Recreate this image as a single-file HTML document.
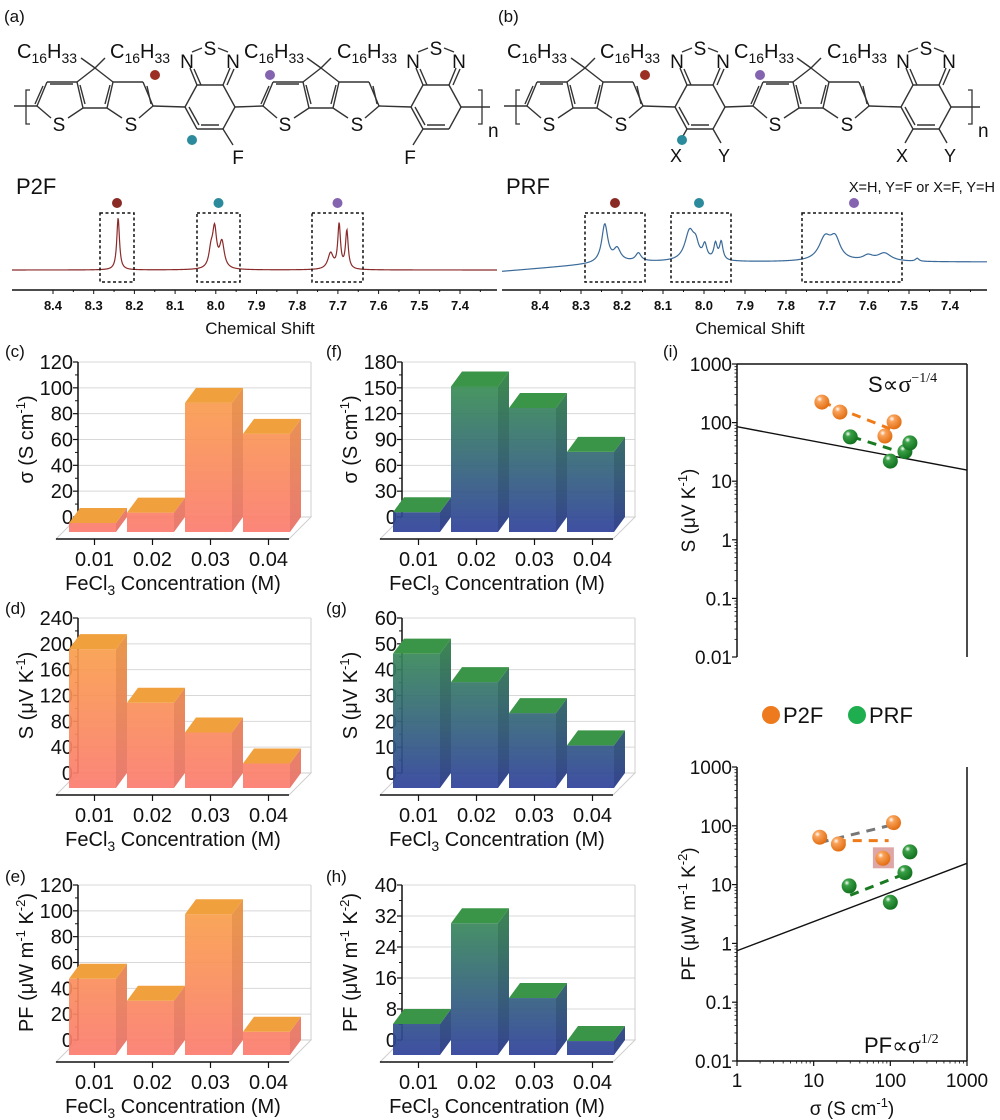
<!DOCTYPE html>
<html><head><meta charset="utf-8">
<style>
html,body{margin:0;padding:0;background:#fff;}
svg{display:block;font-family:"Liberation Sans",Arial,sans-serif;}
</style></head>
<body>
<svg id="fig" width="1000" height="1120" viewBox="0 0 1000 1120" xmlns="http://www.w3.org/2000/svg">
<defs>
<radialGradient id="ballO" cx="0.35" cy="0.3" r="0.75"><stop offset="0" stop-color="#fff"/><stop offset="0.25" stop-color="#f9a25a"/><stop offset="1" stop-color="#e06a0c"/></radialGradient>
<radialGradient id="ballG" cx="0.35" cy="0.3" r="0.75"><stop offset="0" stop-color="#fff"/><stop offset="0.25" stop-color="#3aa046"/><stop offset="1" stop-color="#0f6e1c"/></radialGradient>
</defs>
<g id="root"></g>
</svg>
<script>
// ---------------- data ----------------
const concLabels = ["0.01","0.02","0.03","0.04"];
const p2fSigma = [7, 15, 100, 76];
const p2fSeebeck = [215, 132, 86, 38];
const p2fPF = [59, 42, 109, 18];
const prfSigma = [23, 169, 144, 93];
const prfSeebeck = [52, 41, 29, 16.5];
const prfPF = [8, 34, 14.7, 3.6];

const sigTicksC = [0,20,40,60,80,100,120];
const sigTicksF = [0,30,60,90,120,150,180];
const sTicksD = [0,40,80,120,160,200,240];
const sTicksG = [0,10,20,30,40,50,60];
const pfTicksE = [0,20,40,60,80,100,120];
const pfTicksH = [0,8,16,24,32,40];

// log plot data
const p2fLogSigma = [12.8, 22, 85, 112];
const p2fLogS = [224, 151, 59, 103];
const prfLogSigma = [30, 100, 155, 180];
const prfLogS = [57, 22, 32, 45];
const p2fPFSigma = [12, 21, 110, 80];
const p2fPFVal = [64, 49, 113, 28];
const prfPFSigma = [29, 100, 155, 180];
const prfPFVal = [9.5, 5, 16, 36];
const logYTicks = [1000,100,10,1,0.1,0.01];
const logYLabels = ["1000","100","10","1","0.1","0.01"];
const logXTicks = [1,10,100,1000];
const logXLabels = ["1","10","100","1000"];
const sFitLine = [[1,85],[1000,15.5]];
const pfFitLine = [[1,0.75],[1000,23]];

// NMR peaks: ppm, height(px), width(ppm)
const p2fPeakPpm = [8.240, 8.003, 7.985, 8.012, 7.697, 7.678, 7.718];
const p2fPeakH = [52, 38, 26, 16, 44, 38, 16];
const p2fPeakW = [0.004, 0.006, 0.007, 0.006, 0.004, 0.004, 0.008];
const prfPeakPpm = [8.242, 8.212, 8.160, 8.035, 8.020, 7.998, 7.972, 7.958, 7.705, 7.680, 7.560, 7.600, 7.48];
const prfPeakH = [38, 12, 8, 30, 12, 14, 16, 18, 22, 20, 8, 5, 3];
const prfPeakW = [0.009, 0.010, 0.008, 0.014, 0.008, 0.006, 0.005, 0.005, 0.018, 0.015, 0.02, 0.015, 0.005];
const nmrTicks = [8.4,8.3,8.2,8.1,8.0,7.9,7.8,7.7,7.6,7.5,7.4];

const NS = "http://www.w3.org/2000/svg";
const root = document.getElementById("root");
function mk(tag, attrs, parent){
  const e = document.createElementNS(NS, tag);
  for (const k in attrs) e.setAttribute(k, attrs[k]);
  (parent||root).appendChild(e);
  return e;
}
function txt(x,y,s,size,parent,anchor,extra){
  const t = mk("text",Object.assign({x:x,y:y,"font-size":size,"text-anchor":anchor||"start",fill:"#111"},extra||{}),parent);
  t.innerHTML = s;
  return t;
}
let el;

// ---------------- panel labels ----------------
const panelLabels = [["(a)",4,22],["(b)",498,22],["(c)",5,357],["(f)",326,357],["(d)",5,614],["(g)",326,614],["(e)",5,882],["(h)",326,882],["(i)",663,357]];
panelLabels.forEach(p=>{
  el = txt(p[1],p[2],p[0],17);
  
  
});

// ---------------- chemical structures ----------------
function line(g,x1,y1,x2,y2,w){ return mk("line",{x1:x1,y1:y1,x2:x2,y2:y2,stroke:"#333","stroke-width":w||1.4},g); }
function cpdt(g,cx){
  const by=68;
  line(g,cx,by,cx-18,82); line(g,cx,by,cx+18,82);
  line(g,cx-18,82,cx-12,108); line(g,cx+18,82,cx+12,108); line(g,cx-12,108,cx+12,108);
  line(g,cx-15,85,cx-10,104);line(g,cx+15,85,cx+10,104);
  line(g,cx-18,82,cx-48,82); line(g,cx-48,82,cx-58,106); line(g,cx-52,86,cx-60,104);
  line(g,cx-58,106,cx-44,118); line(g,cx-12,108,cx-27,118);
  line(g,cx-45,84,cx-22,84);
  line(g,cx+18,82,cx+48,82); line(g,cx+48,82,cx+58,106); line(g,cx+52,86,cx+56,104);
  line(g,cx+58,106,cx+44,118); line(g,cx+12,108,cx+27,118);
  txt(cx-36,131,"S",19,g,"middle"); txt(cx+36,131,"S",19,g,"middle");
  line(g,cx,by,cx-14,58); line(g,cx,by,cx+10,58);
}
function bt(g,cx){
  const pts=[[cx-25,107],[cx-13,85],[cx+13,85],[cx+25,107],[cx+13,129],[cx-13,129]];
  for(let i=0;i<6;i++){const a=pts[i],b=pts[(i+1)%6]; line(g,a[0],a[1],b[0],b[1]);}
  line(g,cx-21,107,cx-11,125); line(g,cx+9,129-4,cx-9,129-4);
  line(g,cx-13,85,cx-20,68); line(g,cx+13,85,cx+20,68); line(g,cx-9,85,cx-16,69);line(g,cx+17,85,cx+24,69);
  txt(cx-23,68,"N",19,g,"middle"); txt(cx+23,68,"N",19,g,"middle"); txt(cx,55,"S",19,g,"middle");
  line(g,cx-18,52,cx-8,48); line(g,cx+18,52,cx+8,48);
}
function c16(g,x,y){ txt(x,y,'C<tspan font-size="14" dy="5">16</tspan><tspan dy="-5">H</tspan><tspan font-size="14" dy="5">33</tspan>',20,g); }
function structure(ox, isPRF){
  const g = mk("g",{transform:"translate("+ox+",0)"});
  
  
  cpdt(g,95); bt(g,210); cpdt(g,321); bt(g,436);
  line(g,37,106,14,106); line(g,153,106,185,107); line(g,235,107,263,106); line(g,379,106,411,107); line(g,461,107,490,107);
  mk("path",{d:"M30,90 L26,90 L26,124 L30,124",fill:"none",stroke:"#333","stroke-width":1.3},g);
  mk("path",{d:"M478,90 L482,90 L482,124 L478,124",fill:"none",stroke:"#333","stroke-width":1.3},g);
  txt(488,137,"n",19,g);
  c16(g,17,58); c16(g,110,58); c16(g,244,58); c16(g,337,58);
  if(!isPRF){
    line(g,223,129,233,145); txt(238,164,"F",19,g,"middle");
    line(g,423,129,413,145); txt(410,164,"F",19,g,"middle");
  } else {
    line(g,197,129,189,143); txt(186,162,"X",18,g,"middle");
    line(g,223,129,231,143); txt(234,162,"Y",18,g,"middle");
    line(g,423,129,415,143); txt(412,162,"X",18,g,"middle");
    line(g,449,129,457,143); txt(460,162,"Y",18,g,"middle");
  }
  mk("circle",{cx:155,cy:75,r:5,fill:"#9b2f24"},g);
  mk("circle",{cx:192,cy:140,r:5,fill:"#2b8a9b"},g);
  mk("circle",{cx:270,cy:75,r:5,fill:"#8463b0"},g);
}
structure(0,false);
structure(490,true);
el = txt(16,194,"P2F",22);  
el = txt(506,194,"PRF",22);  
el = txt(995,192,"X=H, Y=F or X=F, Y=H",14.5,null,"end");  

// ---------------- NMR spectra ----------------
function nmr(ox, ppmX0, scale, baseFn, ppms, hs, ws, color, boxes, name){
  const g = mk("g",{});
  
  
  // scale = pixels per 0.1 ppm
  const xOf = p => ppmX0 + (8.4-p)*scale*10;
  const pOf = x => 8.4 - (x-ppmX0)/(scale*10);
  let d="";
  for(let x=ox+12;x<=ox+497;x+=0.5){
    const p=pOf(x); let y=baseFn(x);
    for(let i=0;i<ppms.length;i++){const u=(p-ppms[i])/ws[i]; y-=hs[i]/(1+u*u);}
    d+=(d?"L":"M")+x.toFixed(1)+","+y.toFixed(2);
  }
  el = mk("path",{d:d,fill:"none",stroke:color,"stroke-width":1.2},g);
  
  
  boxes.forEach(b=>{ mk("rect",{x:b[0],y:213,width:b[1]-b[0],height:69,fill:"none",stroke:"#111","stroke-width":1.5,"stroke-dasharray":"3,2.5"},g);
    mk("circle",{cx:(b[0]+b[1])/2+b[3],cy:203,r:5,fill:b[2]},g);});
  mk("line",{x1:ox+12,y1:290,x2:ox+497,y2:290,stroke:"#111","stroke-width":1.5},g);
  nmrTicks.forEach(t=>{const x=xOf(t); mk("line",{x1:x,y1:290,x2:x,y2:294,stroke:"#111"},g);
    mk("line",{x1:x+scale/2,y1:290,x2:x+scale/2,y2:292,stroke:"#111"},g);
    txt(x,310,t.toFixed(1),13,g,"middle",{"font-weight":"bold"});});
  txt(ox+260,334,"Chemical Shift",17,g,"middle");
}
nmr(0,53,40.7,x=>270,p2fPeakPpm,p2fPeakH,p2fPeakW,"#8a2a2a",[[100,134,"#8a2a24",0],[197,240,"#2b8a9b",0],[312,363,"#8463b0",0]],"p2f-nmr");
nmr(490,540,41,x=>262+Math.max(0,(620-x))*0.08,prfPeakPpm,prfPeakH,prfPeakW,"#3a6a9a",[[585,645,"#8a2a24",0],[671,731,"#2b8a9b",-2],[802,902,"#8463b0",2]],"prf-nmr");

// ---------------- 3D bar charts ----------------
let gradId=0;
function barChart(cfg){
  const g = mk("g",{});
  
  
  const ax=cfg.ax, top=cfg.top, zero=cfg.zero, right=ax+233, tmax=cfg.ticks[cfg.ticks.length-1];
  const s=(zero-top)/tmax, dx=11, dy=15;
  const y = v => zero - v*s;
  const id="bg"+(gradId++);
  const lg = mk("linearGradient",{id:id,gradientUnits:"userSpaceOnUse",x1:0,y1:top,x2:0,y2:zero+dy},document.querySelector("defs"));
  mk("stop",{offset:"0",  "stop-color":cfg.c1},lg); mk("stop",{offset:"1","stop-color":cfg.c2},lg);
  const id2="bs"+(gradId++);
  const lg2 = mk("linearGradient",{id:id2,gradientUnits:"userSpaceOnUse",x1:0,y1:top,x2:0,y2:zero+dy},document.querySelector("defs"));
  mk("stop",{offset:"0","stop-color":cfg.s1},lg2); mk("stop",{offset:"1","stop-color":cfg.s2},lg2);
  cfg.ticks.forEach(t=>{ mk("line",{x1:ax,y1:y(t),x2:right,y2:y(t),stroke:"#d8d8d8","stroke-width":1},g); });
  mk("line",{x1:right,y1:top,x2:right,y2:zero,stroke:"#cfcfcf"},g);
  mk("polygon",{points:[ax,zero,right,zero,right-22,zero+22,ax-22,zero+22].join(" "),fill:"none",stroke:"#cfcfcf"},g);
  mk("line",{x1:ax-22,y1:zero+22,x2:right-22,y2:zero+22,stroke:"#111","stroke-width":1.5},g);
  mk("line",{x1:ax,y1:top,x2:ax,y2:zero,stroke:"#111","stroke-width":1.5},g);
  cfg.ticks.forEach((t,i)=>{ mk("line",{x1:ax-5,y1:y(t),x2:ax,y2:y(t),stroke:"#111","stroke-width":1.2},g);
    if(i<cfg.ticks.length-1) mk("line",{x1:ax-3,y1:(y(t)+y(cfg.ticks[i+1]))/2,x2:ax,y2:(y(t)+y(cfg.ticks[i+1]))/2,stroke:"#111"},g);
    el = txt(ax-5,y(t)+7,String(t),20,g,"end");
    
    
  });
  const x0 = ax-9, pitch=58, bw=47;
  cfg.values.forEach((v,i)=>{
    const fx = x0+i*pitch, bt_=y(v), ft=bt_+dy, fb=zero+dy;
    const bg = mk("g",{},g);
    
    
    mk("polygon",{points:[fx+bw,ft,fx+bw+dx,bt_,fx+bw+dx,zero,fx+bw,fb].join(" "),fill:"url(#"+id2+")",opacity:0.95},bg);
    mk("rect",{x:fx,y:ft,width:bw,height:fb-ft,fill:"url(#"+id+")",opacity:0.92},bg);
    mk("polygon",{points:[fx,ft,fx+dx,bt_,fx+bw+dx,bt_,fx+bw,ft].join(" "),fill:cfg.topc},bg);
    mk("line",{x1:fx+bw/2+2,y1:zero+22,x2:fx+bw/2+2,y2:zero+28,stroke:"#111","stroke-width":1.2},g);
    el = txt(fx+bw/2+2,zero+49,concLabels[i],20,g,"middle");
    
    
  });
  el = txt(ax+95,zero+73,'FeCl<tspan font-size="14" dy="5">3</tspan><tspan dy="-5"> Concentration (M)</tspan>',20,g,"middle");
  
  
  el = txt(0,0,cfg.ytitle,20,g,"middle",{transform:"translate("+(ax-45)+","+((top+zero)/2)+") rotate(-90)"});
  
  
}
const orange={c1:"#f8a544",c2:"#fb7b6e",s1:"#e8963c",s2:"#e8736a",topc:"#f1a03e"};
const green={c1:"#3a9a48",c2:"#2e409a",s1:"#338a40",s2:"#2a3a8a",topc:"#3b9548"};
const sigT='σ (S cm<tspan font-size="13" dy="-8">-1</tspan><tspan dy="8">)</tspan>';
const sT='S (μV K<tspan font-size="13" dy="-8">-1</tspan><tspan dy="8">)</tspan>';
const pfT='PF (μW m<tspan font-size="13" dy="-8">-1</tspan><tspan dy="8"> K</tspan><tspan font-size="13" dy="-8">-2</tspan><tspan dy="8">)</tspan>';
barChart(Object.assign({name:"chart-c-p2f-conductivity",ax:78,top:362,zero:517,ticks:sigTicksC,values:p2fSigma,ytitle:sigT},orange));
barChart(Object.assign({name:"chart-f-prf-conductivity",ax:402,top:362,zero:517,ticks:sigTicksF,values:prfSigma,ytitle:sigT},green));
barChart(Object.assign({name:"chart-d-p2f-seebeck",ax:78,top:618,zero:773,ticks:sTicksD,values:p2fSeebeck,ytitle:sT},orange));
barChart(Object.assign({name:"chart-g-prf-seebeck",ax:402,top:618,zero:773,ticks:sTicksG,values:prfSeebeck,ytitle:sT},green));
barChart(Object.assign({name:"chart-e-p2f-powerfactor",ax:78,top:885,zero:1040,ticks:pfTicksE,values:p2fPF,ytitle:pfT},orange));
barChart(Object.assign({name:"chart-h-prf-powerfactor",ax:402,top:885,zero:1040,ticks:pfTicksH,values:prfPF,ytitle:pfT},green));

// ---------------- log plots ----------------
const LX0=737, LX1=967, DX=(LX1-LX0)/3;
const lx = s => LX0 + Math.log10(s)*DX;
function logPlot(cfg){
  const g = mk("g",{});
  
  
  const T=cfg.top, B=cfg.bot, dd=(B-T)/5;
  const ly = v => T + (3-Math.log10(v))*dd;
  mk("line",{x1:LX0,y1:T,x2:LX0,y2:B,stroke:"#111","stroke-width":1.5},g);
  mk("line",{x1:LX1,y1:T,x2:LX1,y2:B,stroke:"#111","stroke-width":1.5},g);
  if(cfg.topLine) mk("line",{x1:LX0,y1:T,x2:LX1,y2:T,stroke:"#111","stroke-width":1.5},g);
  logYTicks.forEach((t,i)=>{ const yy=ly(t);
    mk("line",{x1:LX0-5,y1:yy,x2:LX0,y2:yy,stroke:"#111","stroke-width":1.2},g);
    if(i>0){ for(let k=2;k<10;k++){const ym=ly(t*k); mk("line",{x1:LX0-2.5,y1:ym,x2:LX0,y2:ym,stroke:"#111","stroke-width":0.8},g);} }
    el = txt(LX0-5,yy+7,logYLabels[i],19,g,"end");
    
    
  });
  if(cfg.xaxis){
    mk("line",{x1:LX0,y1:B,x2:LX1,y2:B,stroke:"#111","stroke-width":1.5},g);
    logXTicks.forEach((t,i)=>{ const xx=lx(t);
      mk("line",{x1:xx,y1:B,x2:xx,y2:B+5,stroke:"#111","stroke-width":1.2},g);
      if(i<3) for(let k=2;k<10;k++){const xm=lx(t*k); mk("line",{x1:xm,y1:B,x2:xm,y2:B+2.5,stroke:"#111","stroke-width":0.8},g);}
      el = txt(xx,B+26,logXLabels[i],19,g,"middle");
      
      
    });
    el = txt(852,B+54,'σ (S cm<tspan font-size="13" dy="-8">-1</tspan><tspan dy="8">)</tspan>',19,g,"middle");
    
    
  }
  el = mk("line",{x1:lx(cfg.fit[0][0]),y1:ly(cfg.fit[0][1]),x2:lx(cfg.fit[1][0]),y2:ly(cfg.fit[1][1]),stroke:"#111","stroke-width":1.4},g);
  
  
  cfg.dashes.forEach(d=>{ mk("line",{x1:lx(d[0]),y1:ly(d[1]),x2:lx(d[2]),y2:ly(d[3]),stroke:d[4],"stroke-width":3,"stroke-dasharray":"9,7"},g); });
  if(cfg.box){ mk("rect",{x:lx(cfg.box[0])-10,y:ly(cfg.box[1])-11,width:21,height:21,fill:"#c96a6a",opacity:0.6},g); }
  cfg.series.forEach(sr=>{
    sr.x.forEach((xv,i)=>{
      el = mk("circle",{cx:lx(xv),cy:ly(sr.y[i]),r:7.5,fill:sr.fill},g);
      
      
    });
  });
  el = txt(0,0,cfg.ytitle,19,g,"middle",{transform:"translate(695,"+((T+B)/2)+") rotate(-90)"});
  
  
  el = txt(cfg.ann[0],cfg.ann[1],cfg.ann[2],22,g,"start");
  
  
}
logPlot({name:"chart-i-seebeck-vs-conductivity",top:364,bot:657,topLine:true,xaxis:false,fit:sFitLine,
  dashes:[[13,224,100,78,"#f07a18"],[32,57,150,30,"#1a7a22"]],
  series:[{name:"p2f",x:p2fLogSigma,y:p2fLogS,fill:"url(#ballO)"},{name:"prf",x:prfLogSigma,y:prfLogS,fill:"url(#ballG)"}],
  ytitle:sT,ann:[868,392,'S∝<tspan font-family="Liberation Serif" font-size="24">σ</tspan><tspan font-family="Liberation Serif" font-size="14" dy="-10">−1/4</tspan>']});
logPlot({name:"chart-i-powerfactor-vs-conductivity",top:767,bot:1061,topLine:false,xaxis:true,fit:pfFitLine,
  dashes:[[12,52,110,105,"#777"],[20,56,95,56,"#f07a18"],[30,6.6,150,15,"#1a7a22"]],box:[80,28],
  series:[{name:"p2f",x:p2fPFSigma,y:p2fPFVal,fill:"url(#ballO)"},{name:"prf",x:prfPFSigma,y:prfPFVal,fill:"url(#ballG)"}],
  ytitle:pfT,ann:[864,1053,'PF∝<tspan font-family="Liberation Serif" font-size="24">σ</tspan><tspan font-family="Liberation Serif" font-size="14" dy="-10">1/2</tspan>']});

// legend
const lgd = mk("g",{});


el = mk("circle",{cx:771,cy:715,r:9,fill:"#ee7a1e"},lgd);


txt(783,723,"P2F",22,lgd);
el = mk("circle",{cx:857,cy:715,r:9,fill:"#1fae4f"},lgd);


txt(869,723,"PRF",22,lgd);
</script>
</body></html>
